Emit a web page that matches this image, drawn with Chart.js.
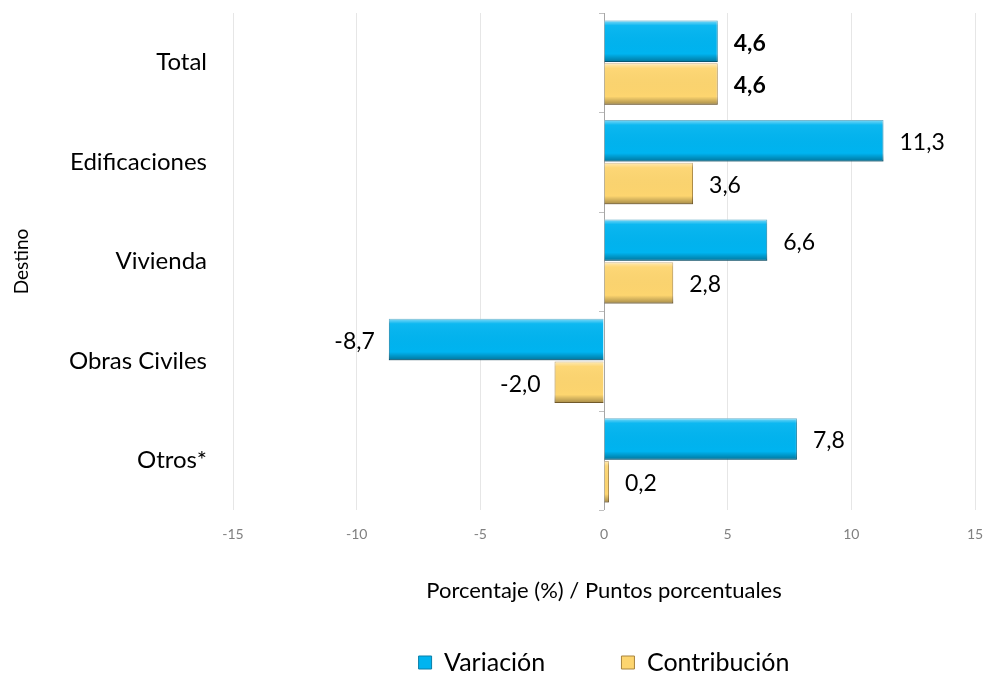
<!DOCTYPE html>
<html lang="es">
  <head>
    <meta charset="UTF-8" />
    <title>Variación y contribución por destino</title>
    <style>
      body {
        margin: 0;
        background: #fff;
        font-family: Lato, "Open Sans", sans-serif;
      }
      .chart-container {
        width: 987px;
        height: 675px;
      }
    </style>
  </head>
  <body>
    <div class="chart-container">
      <canvas id="destinoChart"></canvas>
    </div>
    <script src="https://cdn.jsdelivr.net/npm/chart.js"></script>
    <script>
      const categories = ["Total", "Edificaciones", "Vivienda", "Obras Civiles", "Otros*"];
      const variacion = [4.6, 11.3, 6.6, -8.7, 7.8];
      const contribucion = [4.6, 3.6, 2.8, -2.0, 0.2];
      const xTicks = [-15, -10, -5, 0, 5, 10, 15];

      const FONT = "Lato, 'Open Sans', sans-serif";

      // bevel look: light top edge, dark bottom edge, drawn on top of each bar
      const bevelPlugin = {
        id: "bevel",
        afterDatasetsDraw(chart) {
          const ctx = chart.ctx;
          chart.data.datasets.forEach((ds, di) => {
            const meta = chart.getDatasetMeta(di);
            if (meta.hidden) return;
            meta.data.forEach((bar) => {
              const left = Math.min(bar.x, bar.base);
              const w = Math.abs(bar.x - bar.base);
              const top = bar.y - bar.height / 2;
              const h = bar.height;
              const g = ctx.createLinearGradient(0, top, 0, top + h);
              g.addColorStop(0, "rgba(255,255,255,0.5)");
              g.addColorStop(0.12, "rgba(255,255,255,0.05)");
              g.addColorStop(0.8, "rgba(0,0,0,0)");
              g.addColorStop(1, "rgba(0,0,0,0.35)");
              ctx.save();
              ctx.fillStyle = g;
              ctx.fillRect(left, top, w, h);
              ctx.restore();
            });
          });
        },
      };

      // small tick marks on the left of the zero line, between categories
      const zeroTicks = {
        id: "zeroTicks",
        beforeDatasetsDraw(chart) {
          const ctx = chart.ctx;
          const x0 = chart.scales.x.getPixelForValue(0);
          const y = chart.scales.y;
          ctx.save();
          ctx.strokeStyle = "#bfbfbf";
          ctx.lineWidth = 1;
          for (let i = 0; i <= categories.length; i++) {
            const py = Math.round(y.getPixelForValue(i - 0.5)) + 0.5;
            ctx.beginPath();
            ctx.moveTo(x0 - 5, py);
            ctx.lineTo(x0, py);
            ctx.stroke();
          }
          ctx.restore();
        },
      };

      const valueLabels = {
        id: "valueLabels",
        afterDatasetsDraw(chart) {
          const ctx = chart.ctx;
          ctx.save();
          ctx.fillStyle = "#000";
          ctx.textBaseline = "middle";
          chart.data.datasets.forEach((ds, di) => {
            const meta = chart.getDatasetMeta(di);
            meta.data.forEach((bar, i) => {
              const v = ds.data[i];
              const bold = i === 0;
              ctx.font = (bold ? "bold " : "") + "23px " + FONT;
              const txt = v.toFixed(1).replace(".", ",");
              if (v >= 0) {
                ctx.textAlign = "left";
                ctx.fillText(txt, bar.x + 16, bar.y + 2);
              } else {
                ctx.textAlign = "right";
                ctx.fillText(txt, bar.x - 14, bar.y + 2);
              }
            });
          });
          ctx.restore();
        },
      };

      const config = {
        type: "bar",
        data: {
          labels: categories,
          datasets: [
            {
              label: "Variación",
              data: variacion,
              backgroundColor: "#00b4f0",
              borderColor: "#0a7fa8",
              borderWidth: 1,
              categoryPercentage: 0.86,
              barPercentage: 0.97,
            },
            {
              label: "Contribución",
              data: contribucion,
              backgroundColor: "#fdd56f",
              borderColor: "#a8843e",
              borderWidth: 1,
              categoryPercentage: 0.86,
              barPercentage: 0.97,
            },
          ],
        },
        options: {
          indexAxis: "y",
          responsive: true,
          maintainAspectRatio: false,
          animation: false,
          layout: { padding: { top: 13, right: 12, left: 0, bottom: -10 } },
          plugins: {
            tooltip: { enabled: false },
            legend: {
              position: "bottom",
              fullSize: false,
              labels: {
                font: { family: FONT, size: 25 },
                color: "#000",
                boxWidth: 13,
                boxHeight: 13,
                padding: 20,
                generateLabels(chart) {
                  // wider gap after the first entry, as in the original
                  return chart.data.datasets.map((ds, i) => ({
                    text: i === 0 ? ds.label + "\u2003\u2003\u2003" : ds.label,
                    fillStyle: ds.backgroundColor,
                    strokeStyle: ds.borderColor,
                    lineWidth: 1,
                    hidden: false,
                    datasetIndex: i,
                    fontColor: "#000",
                  }));
                },
              },
            },
          },
          scales: {
            x: {
              min: -15,
              max: 15,
              afterBuildTicks(scale) {
                scale.ticks = xTicks.map((v) => ({ value: v }));
              },
              afterFit(scale) {
                scale.height = 120;
                scale.paddingLeft = 0;
                scale.paddingRight = 0;
              },
              grid: {
                color: (c) => (c.tick && c.tick.value === 0 ? "#a6a6a6" : "#e6e6e6"),
                drawTicks: false,
              },
              border: { display: false },
              ticks: {
                color: "#808080",
                font: { family: FONT, size: 14 },
                padding: 16,
              },
              title: {
                display: true,
                text: "Porcentaje (%) / Puntos porcentuales",
                color: "#000",
                font: { family: FONT, size: 22 },
                padding: { top: 30, bottom: 26 },
              },
            },
            y: {
              afterFit(scale) {
                scale.width = 233;
                scale.paddingTop = 0;
                scale.paddingBottom = 0;
              },
              grid: { display: false, drawTicks: false },
              border: { display: false },
              ticks: {
                color: "#000",
                font: { family: FONT, size: 24 },
                padding: 26,
              },
              title: {
                display: true,
                text: "Destino",
                color: "#000",
                font: { family: FONT, size: 19 },
                padding: { top: 10, bottom: 0 },
              },
            },
          },
        },
        plugins: [zeroTicks, bevelPlugin, valueLabels],
      };

      new Chart(document.getElementById("destinoChart"), config);
    </script>
  </body>
</html>
